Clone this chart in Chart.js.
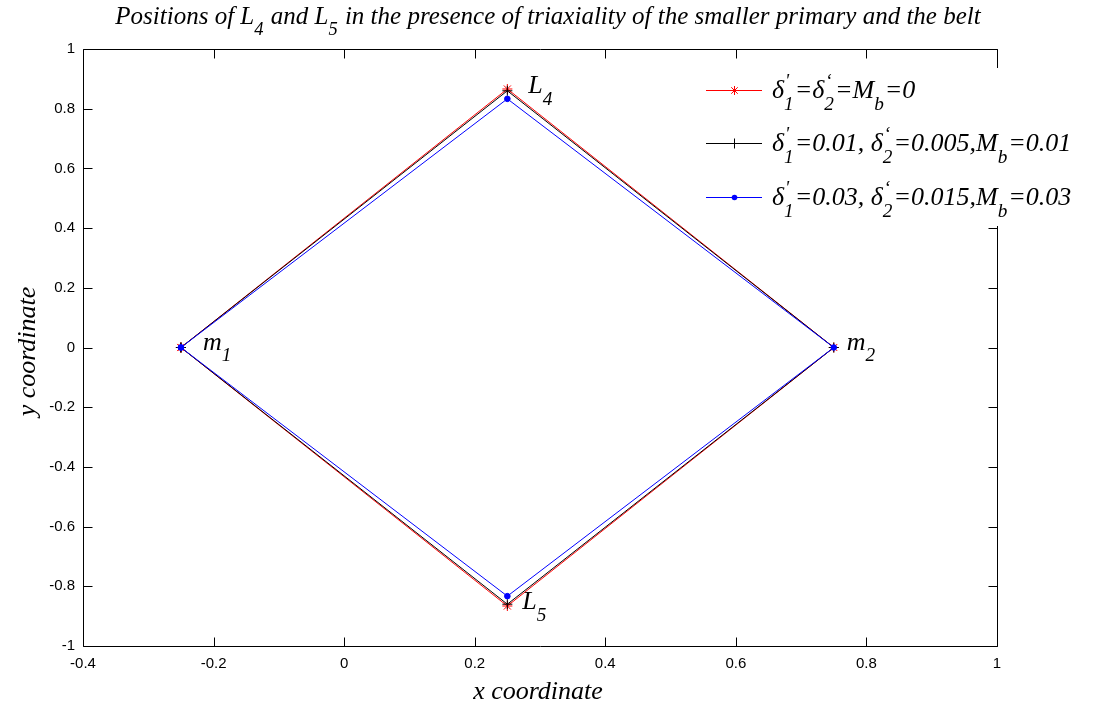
<!DOCTYPE html>
<html>
<head>
<meta charset="utf-8">
<script src="https://cdn.jsdelivr.net/npm/chart.js@4"></script>
<style>
  html, body { margin: 0; padding: 0; background: #fff; }
</style>
</head>
<body>
<canvas id="myChart" width="1094" height="709"></canvas>
<script>
// Vertices of the quadrilateral m1 -> L4 -> m2 -> L5 -> m1 for each case
const pointNames = ['m1', 'L4', 'm2', 'L5', 'm1'];
const xClassic = [-0.25, 0.25, 0.75, 0.25, -0.25];
const yClassic = [0, 0.866, 0, -0.866, 0];
const xCaseA = [-0.25, 0.25, 0.75, 0.25, -0.25];
const yCaseA = [0, 0.860, 0, -0.860, 0];
const xCaseB = [-0.25, 0.25, 0.75, 0.25, -0.25];
const yCaseB = [0, 0.833, 0, -0.833, 0];

const xTicks = [-0.4, -0.2, 0, 0.2, 0.4, 0.6, 0.8, 1];
const yTicks = [-1, -0.8, -0.6, -0.4, -0.2, 0, 0.2, 0.4, 0.6, 0.8, 1];

const SERIF = "'Liberation Serif', 'Times New Roman', serif";
const SANS = "'Liberation Sans', Arial, sans-serif";

function toPoints(xs, ys) {
    return xs.map((x, i) => ({ x: x, y: ys[i] }));
}

// draws italic text with sub/superscripts; returns the width
function drawRich(ctx, parts, x, y, size, measureOnly) {
    let cx = x;
    const small = size * 0.74;
    ctx.textBaseline = 'alphabetic';
    ctx.textAlign = 'left';
    for (const p of parts) {
        if (p.t !== undefined) {
            ctx.font = 'italic ' + size + 'px ' + SERIF;
            if (!measureOnly) ctx.fillText(p.t, cx, y);
            cx += ctx.measureText(p.t).width;
        } else {
            ctx.font = 'italic ' + small + 'px ' + SERIF;
            let w = 0;
            if (p.sup) {
                if (!measureOnly) ctx.fillText(p.sup, cx + 1, y - size * 0.42);
                w = Math.max(w, ctx.measureText(p.sup).width + 1);
            }
            if (p.sub) {
                if (!measureOnly) ctx.fillText(p.sub, cx, y + size * 0.45);
                w = Math.max(w, ctx.measureText(p.sub).width);
            }
            cx += w + 1;
        }
    }
    return cx - x;
}

function drawMarker(ctx, style, x, y, color) {
    ctx.save();
    ctx.strokeStyle = color;
    ctx.fillStyle = color;
    ctx.lineWidth = 1;
    ctx.beginPath();
    if (style === 'star') {
        const r = 4.5, d = r * 0.72;
        ctx.moveTo(x - r, y); ctx.lineTo(x + r, y);
        ctx.moveTo(x, y - r); ctx.lineTo(x, y + r);
        ctx.moveTo(x - d, y - d); ctx.lineTo(x + d, y + d);
        ctx.moveTo(x - d, y + d); ctx.lineTo(x + d, y - d);
        ctx.stroke();
    } else if (style === 'cross') {
        const r = 5;
        ctx.moveTo(x - r, y); ctx.lineTo(x + r, y);
        ctx.moveTo(x, y - r); ctx.lineTo(x, y + r);
        ctx.stroke();
    } else {
        ctx.arc(x, y, 2.8, 0, Math.PI * 2);
        ctx.fill();
    }
    ctx.restore();
}

const series = [
    {
        label: "d1'=d2'=Mb=0", color: '#ff0000', marker: 'star', pts: toPoints(xClassic, yClassic),
        text: [{ t: 'δ' }, { sup: '\'', sub: '1' }, { t: '=δ' }, { sup: '‘', sub: '2' }, { t: '=M' }, { sub: 'b' }, { t: '=0' }]
    },
    {
        label: "d1'=0.01,d2'=0.005,Mb=0.01", color: '#000000', marker: 'cross', pts: toPoints(xCaseA, yCaseA),
        text: [{ t: 'δ' }, { sup: '\'', sub: '1' }, { t: '=0.01, δ' }, { sup: '‘', sub: '2' }, { t: '=0.005,M' }, { sub: 'b' }, { t: '=0.01' }]
    },
    {
        label: "d1'=0.03,d2'=0.015,Mb=0.03", color: '#0000ff', marker: 'circle', pts: toPoints(xCaseB, yCaseB),
        text: [{ t: 'δ' }, { sup: '\'', sub: '1' }, { t: '=0.03, δ' }, { sup: '‘', sub: '2' }, { t: '=0.015,M' }, { sub: 'b' }, { t: '=0.03' }]
    }
];

// axes box with inward ticks on all four sides
const boxPlugin = {
    id: 'box',
    beforeDatasetsDraw(chart) {
        const { ctx, chartArea: a, scales } = chart;
        ctx.save();
        ctx.strokeStyle = '#000';
        ctx.lineWidth = 1;
        const L = Math.round(a.left) + 0.5, R = Math.round(a.right) + 0.5;
        const T = Math.round(a.top) + 0.5, B = Math.round(a.bottom) + 0.5;
        ctx.beginPath();
        ctx.rect(L, T, R - L, B - T);
        const tl = 9;
        xTicks.forEach(v => {
            const px = Math.round(scales.x.getPixelForValue(v)) + 0.5;
            ctx.moveTo(px, B); ctx.lineTo(px, B - tl);
            ctx.moveTo(px, T); ctx.lineTo(px, T + tl);
        });
        yTicks.forEach(v => {
            const py = Math.round(scales.y.getPixelForValue(v)) + 0.5;
            ctx.moveTo(L, py); ctx.lineTo(L + tl, py);
            ctx.moveTo(R, py); ctx.lineTo(R - tl, py);
        });
        ctx.stroke();
        ctx.restore();
    }
};

// title, axis labels, point names and legend
const textPlugin = {
    id: 'texts',
    afterDatasetsDraw(chart) {
        const { ctx, chartArea: a, scales } = chart;
        ctx.save();
        ctx.fillStyle = '#000';
        const cx = (a.left + a.right) / 2;

        const title = [{ t: 'Positions of L' }, { sub: '4' }, { t: ' and L' }, { sub: '5' },
            { t: ' in the presence of triaxiality of the smaller primary and the belt' }];
        const tw = drawRich(ctx, title, 0, 0, 25, true);
        drawRich(ctx, title, cx - tw / 2 + 8, 24, 25);

        ctx.font = 'italic 26px ' + SERIF;
        ctx.textAlign = 'center';
        ctx.textBaseline = 'alphabetic';
        ctx.fillText('x coordinate', cx - 2, 699);
        ctx.save();
        ctx.translate(35, (a.top + a.bottom) / 2 + 4);
        ctx.rotate(-Math.PI / 2);
        ctx.fillText('y coordinate', 0, 0);
        ctx.restore();

        // names next to the vertices of the classic configuration
        const px = i => scales.x.getPixelForValue(xClassic[i]);
        const py = i => scales.y.getPixelForValue(yClassic[i]);
        drawRich(ctx, [{ t: 'm' }, { sub: '1' }], px(0) + 22, py(0) + 2, 26);
        drawRich(ctx, [{ t: 'L' }, { sub: '4' }], px(1) + 21, py(1) + 4, 26);
        drawRich(ctx, [{ t: 'm' }, { sub: '2' }], px(2) + 13, py(2) + 2, 26);
        drawRich(ctx, [{ t: 'L' }, { sub: '5' }], px(3) + 15, py(3) + 3, 26);

        // legend
        ctx.fillStyle = '#fff';
        ctx.fillRect(695, 68, 399, 158);
        const rows = [90, 143, 197];
        series.forEach((s, i) => {
            const y = rows[i] + 0.5;
            ctx.strokeStyle = s.color;
            ctx.lineWidth = 1;
            ctx.beginPath();
            ctx.moveTo(706, y);
            ctx.lineTo(762, y);
            ctx.stroke();
            drawMarker(ctx, s.marker, 734.5, y, s.color);
            ctx.fillStyle = '#000';
            drawRich(ctx, s.text, 772, rows[i] + 8, 26);
        });
        ctx.restore();
    }
};

const ctx = document.getElementById('myChart').getContext('2d');
const myChart = new Chart(ctx, {
    type: 'scatter',
    data: {
        datasets: series.map((s, i) => ({
            label: s.label,
            data: s.pts,
            showLine: true,
            borderColor: s.color,
            backgroundColor: s.color,
            borderWidth: 1,
            pointStyle: s.marker,
            pointRadius: s.marker === 'circle' ? 2.8 : 5,
            pointBorderWidth: 1,
            pointBorderColor: s.color,
            pointBackgroundColor: s.color,
            tension: 0,
            order: series.length - i
        }))
    },
    options: {
        responsive: false,
        animation: false,
        devicePixelRatio: 1,
        layout: { padding: { top: 49, right: 97, left: 0, bottom: 0 } },
        plugins: {
            legend: { display: false },
            title: { display: false },
            tooltip: { enabled: false }
        },
        scales: {
            x: {
                type: 'linear',
                min: -0.4,
                max: 1,
                afterBuildTicks: s => { s.ticks = xTicks.map(v => ({ value: v })); },
                afterFit: s => { s.height = 63; },
                grid: { display: false, drawTicks: false },
                border: { display: false },
                ticks: {
                    padding: 9,
                    maxRotation: 0,
                    color: '#000',
                    font: { family: SANS, size: 15 },
                    callback: v => String(v)
                }
            },
            y: {
                type: 'linear',
                min: -1,
                max: 1,
                afterBuildTicks: s => { s.ticks = yTicks.map(v => ({ value: v })); },
                afterFit: s => { s.width = 83; },
                grid: { display: false, drawTicks: false },
                border: { display: false },
                ticks: {
                    padding: 8,
                    color: '#000',
                    font: { family: SANS, size: 15 },
                    callback: v => String(v)
                }
            }
        }
    },
    plugins: [boxPlugin, textPlugin]
});
</script>
</body>
</html>
